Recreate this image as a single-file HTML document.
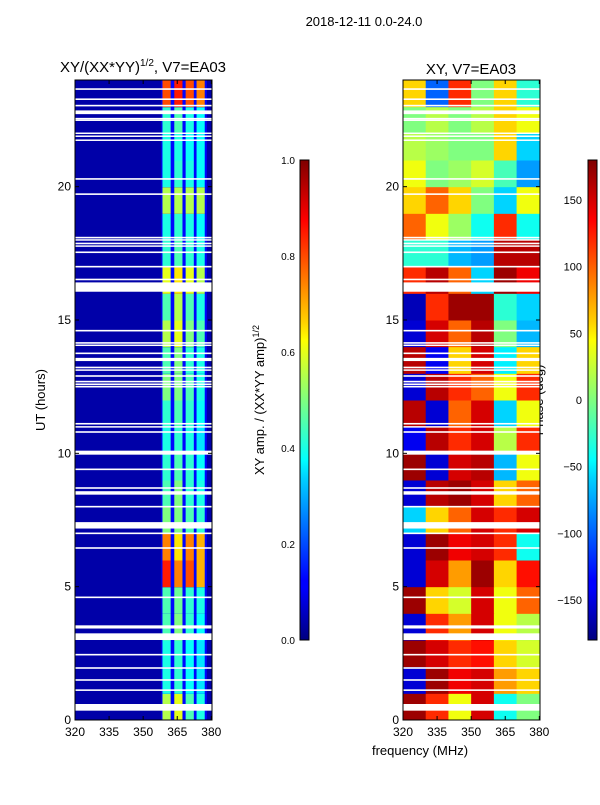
<!DOCTYPE html>
<html><head><meta charset="utf-8">
<style>
body{margin:0;background:#fff;font-family:"Liberation Sans",sans-serif;}
svg text{font-family:"Liberation Sans",sans-serif;fill:#000;}
</style></head>
<body>
<svg id="fig" width="600" height="800" viewBox="0 0 600 800">
<rect width="600" height="800" fill="#fff"/>
<text x="364" y="26" font-size="13" text-anchor="middle">2018-12-11 0.0-24.0</text>
<text x="143" y="72" font-size="15" text-anchor="middle">XY/(XX*YY)<tspan font-size="10" dy="-6">1/2</tspan><tspan dy="6">, V7=EA03</tspan></text>
<text x="471" y="74" font-size="15" text-anchor="middle">XY, V7=EA03</text>
<text x="45" y="400" font-size="13" text-anchor="middle" transform="rotate(-90 45 400)">UT (hours)</text>
<text x="420" y="755" font-size="13" text-anchor="middle">frequency (MHz)</text>
<text x="264" y="400" font-size="13" text-anchor="middle" transform="rotate(-90 264 400)">XY amp. / (XX*YY amp)<tspan font-size="9" dy="-5">1/2</tspan></text>
<text x="543" y="400" font-size="13" text-anchor="middle" transform="rotate(-90 543 400)">Phase (deg)</text>
<defs>
<linearGradient id="jetv" x1="0" y1="1" x2="0" y2="0">
<stop offset="0" stop-color="#00007f"/><stop offset="0.11" stop-color="#0000ff"/><stop offset="0.125" stop-color="#0000ff"/><stop offset="0.34" stop-color="#00d4ff"/><stop offset="0.375" stop-color="#00ffff"/><stop offset="0.5" stop-color="#7fff7f"/><stop offset="0.625" stop-color="#ffff00"/><stop offset="0.66" stop-color="#ffd400"/><stop offset="0.875" stop-color="#ff0000"/><stop offset="1" stop-color="#7f0000"/>
</linearGradient>
</defs>
<g id="left"></g>
<g id="right"></g>
<g id="axes"></g>
<rect x="300" y="160" width="9" height="480" fill="url(#jetv)" stroke="#000"/>
<rect x="588" y="160" width="9" height="480" fill="url(#jetv)" stroke="#000"/>
</svg>
<script>
const hours=[0,1,2,3,4,5,6,7,8,9,10,11,12,13,14,15,16,17,18,19,20,21,22,23];
const stripeCenters=[360.3,365.5,370.5,375.3];
const stripeAmp=[[0.55,0.6,0.45,0.4],[0.4,0.42,0.38,0.35],[0.4,0.42,0.38,0.35],[0.45,0.5,0.42,0.38],[0.45,0.48,0.42,0.4],[0.85,0.75,0.8,0.7],[0.75,0.65,0.75,0.7],[0.5,0.5,0.45,0.42],[0.45,0.5,0.42,0.4],[0.42,0.45,0.42,0.38],[0.4,0.42,0.4,0.35],[0.42,0.45,0.42,0.38],[0.5,0.5,0.45,0.4],[0.45,0.5,0.42,0.4],[0.55,0.6,0.5,0.45],[0.45,0.55,0.45,0.4],[0.6,0.65,0.6,0.55],[0.42,0.45,0.42,0.4],[0.4,0.42,0.4,0.38],[0.55,0.55,0.55,0.55],[0.4,0.42,0.4,0.38],[0.4,0.4,0.38,0.38],[0.42,0.45,0.4,0.38],[0.8,0.85,0.8,0.75]];
const phaseCols=[320,330,340,350,360,370];
const phase=[[170,120,40,150,-40,0],[-150,170,140,150,80,60],[170,150,120,130,60,30],[-150,120,80,150,40,20],[170,60,30,150,40,100],[-150,150,80,170,60,130],[-150,170,140,150,120,-40],[-60,60,100,150,120,150],[-150,160,170,150,60,100],[170,-150,150,160,-70,40],[-140,160,120,150,20,120],[160,-150,100,150,-60,40],[-150,160,120,100,40,120],[160,-140,60,150,-50,60],[-150,150,100,160,0,-70],[-160,120,170,170,-30,-60],[120,160,100,-60,170,140],[-30,-30,-70,-80,160,160],[100,40,10,-40,120,-40],[60,100,60,0,-60,40],[40,0,10,30,-20,-80],[20,10,0,0,60,-60],[0,20,0,20,60,40],[60,-100,120,0,60,-30]];
const gaps=[[23.63,23.69],[23.25,23.31],[23.01,23.07],[22.72,22.86],[22.53,22.58],[22.47,22.52],[21.98,22.03],[21.87,21.92],[21.72,21.77],[20.26,20.32],[19.69,19.75],[18.06,18.12],[17.98,18.03],[17.84,17.9],[17.75,17.8],[17.51,17.57],[16.97,17.03],[16.49,16.55],[16.06,16.41],[14.57,14.63],[14.11,14.17],[14.03,14.08],[13.72,13.78],[13.46,13.58],[13.19,13.25],[13.1,13.15],[12.87,12.93],[12.66,12.72],[12.56,12.62],[12.47,12.53],[11.08,11.14],[10.97,11.02],[10.77,10.83],[9.95,10.1],[9.37,9.43],[8.67,8.73],[8.45,8.58],[7.97,8.03],[7.18,7.42],[6.97,7.03],[6.42,6.48],[4.57,4.63],[3.43,3.55],[3.0,3.25],[2.42,2.48],[1.92,1.98],[1.47,1.53],[1.09,1.15],[0.35,0.6]];
const yTicks=[0,5,10,15,20];
const xTicks=[320,335,350,365,380];
const ampTicks=[0.0,0.2,0.4,0.6,0.8,1.0];
const phaseTicks=[-150,-100,-50,0,50,100,150];
const NS='http://www.w3.org/2000/svg';
const TOP=80,BOT=720,L1=75,L2=403,W=137;
const yOf=u=>BOT-(u/24)*(BOT-TOP);
const xf=(x0)=>f=>x0+(f-320)/(380.3-320)*W;
function jet(v){v=Math.max(0,Math.min(1,v));const c=t=>Math.round(255*Math.max(0,Math.min(1,1.5-Math.abs(4*v-t))));return `rgb(${c(3)},${c(2)},${c(1)})`;}
function rect(g,x,yy,w,h,fill){const r=document.createElementNS(NS,'rect');r.setAttribute('x',x);r.setAttribute('y',yy);r.setAttribute('width',w);r.setAttribute('height',h);r.setAttribute('fill',fill);g.appendChild(r);return r;}
const gl=document.getElementById('left'),gr=document.getElementById('right'),ga=document.getElementById('axes');
const xl=xf(L1),xr=xf(L2);
hours.forEach((h,i)=>{
 let r=rect(gl,xl(320),yOf(h+1),xl(380.3)-xl(320),yOf(h)-yOf(h+1)+0.5,jet(0.04));
 
 
 r=rect(gl,xl(358),yOf(h+1),xl(378)-xl(358),yOf(h)-yOf(h+1)+0.5,jet(0.13));
 
 
 stripeCenters.forEach((c,j)=>{
  const s=rect(gl,xl(c-1.8),yOf(h+1),xl(c+1.8)-xl(c-1.8),yOf(h)-yOf(h+1)+0.5,jet(stripeAmp[i][j]));
  
  
 });
 phaseCols.forEach((c,j)=>{
  const c2=j<phaseCols.length-1?phaseCols[j+1]:380.3;
  const p=rect(gr,xr(c),yOf(h+1),xr(c2)-xr(c)+0.5,yOf(h)-yOf(h+1)+0.5,jet((phase[i][j]+180)/360));
  
  
 });
});
gaps.forEach(gp=>{
 [L1,L2].forEach(x0=>{
  const r=rect(ga,x0,yOf(gp[1]),W,Math.max(1.5,yOf(gp[0])-yOf(gp[1])),'#fff');
  
  
 });
});
function line(x1,y1,x2,y2){const l=document.createElementNS(NS,'line');l.setAttribute('x1',x1);l.setAttribute('y1',y1);l.setAttribute('x2',x2);l.setAttribute('y2',y2);l.setAttribute('stroke','#000');ga.appendChild(l);return l;}
function text(x,yy,s,anchor){const t=document.createElementNS(NS,'text');t.setAttribute('x',x);t.setAttribute('y',yy);t.setAttribute('font-size','12');t.setAttribute('text-anchor',anchor);t.textContent=s;ga.appendChild(t);return t;}
[L1,L2].forEach(x0=>{
 const fr=document.createElementNS(NS,'rect');fr.setAttribute('x',x0);fr.setAttribute('y',TOP);fr.setAttribute('width',W);fr.setAttribute('height',BOT-TOP);fr.setAttribute('fill','none');fr.setAttribute('stroke','#000');
 
 
 ga.appendChild(fr);
 const xs=xf(x0);
 yTicks.forEach(t=>{line(x0,yOf(t),x0+4,yOf(t));line(x0+W,yOf(t),x0+W-4,yOf(t));
  const tl=text(x0-4,yOf(t)+4,String(t),'end');
  
  });
 xTicks.forEach(t=>{line(xs(t),BOT,xs(t),BOT-4);line(xs(t),TOP,xs(t),TOP+4);
  const tl=text(xs(t),BOT+16,String(t),'middle');
  
  });
});
ampTicks.forEach(t=>{const yy=640-t*480;line(300,yy,303,yy);line(309,yy,306,yy);
 const tl=text(295,yy+4,t.toFixed(1),'end');tl.setAttribute('font-size','10');
 
 });
phaseTicks.forEach(t=>{const yy=640-(t+180)/360*480;line(588,yy,591,yy);line(597,yy,594,yy);
 const tl=text(582,yy+4,t<0?'\u2212'+(-t):String(t),'end');tl.setAttribute('font-size','11');
 
 });
</script>
</body></html>
